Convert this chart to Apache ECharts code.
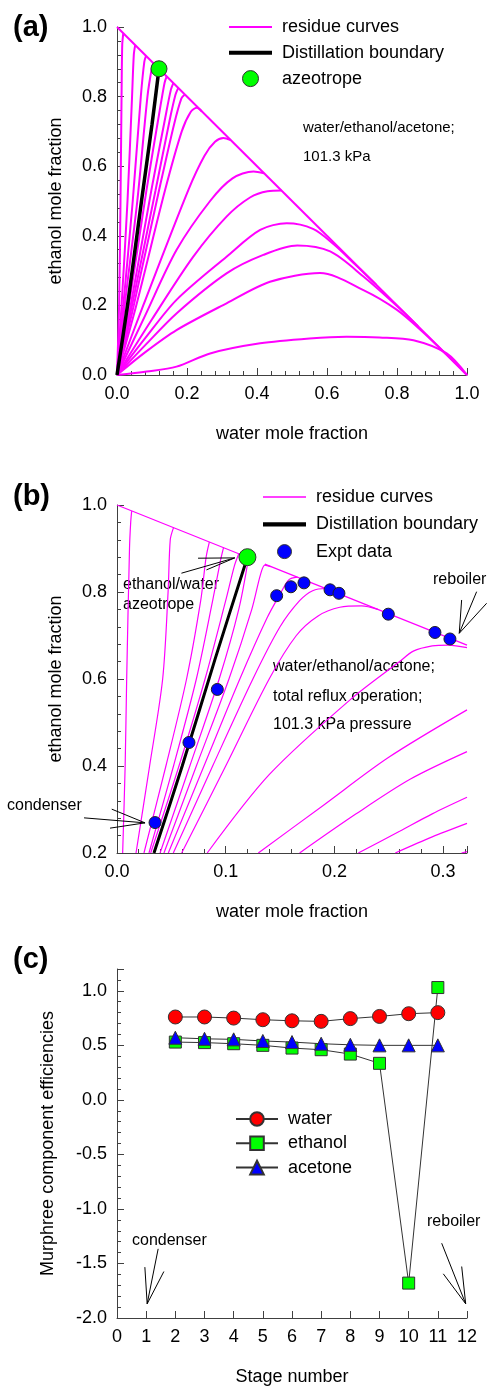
<!DOCTYPE html>
<html>
<head>
<meta charset="utf-8">
<script src="https://cdn.jsdelivr.net/npm/echarts@6/dist/echarts.min.js"></script>
<style>
  html, body { margin: 0; padding: 0; background: #fff; }
  #chart { width: 487px; height: 1386px; }
</style>
</head>
<body>
<div id="chart"></div>
<script>
// ---------- (a) residue curve map, full composition triangle ----------
// x = water mole fraction, y = ethanol mole fraction
const edgeA = [[0, 1], [1, 0]];
const residueA = [
  [[0,0],[0.006,0.2],[0.01,0.5],[0.013,0.8],[0.015,0.95],[0.018,0.982]],
  [[0,0],[0.013,0.2],[0.03,0.5],[0.043,0.8],[0.048,0.92],[0.052,0.948]],
  [[0,0],[0.018,0.2],[0.045,0.5],[0.068,0.8],[0.078,0.9],[0.083,0.917]],
  [[0,0],[0.022,0.2],[0.058,0.5],[0.087,0.8],[0.1,0.885],[0.104,0.896]],
  [[0,0],[0.034,0.2],[0.084,0.53],[0.122,0.76],[0.136,0.84],[0.142,0.858]],
  [[0,0],[0.039,0.2],[0.098,0.53],[0.138,0.74],[0.154,0.82],[0.161,0.839]],
  [[0,0],[0.043,0.2],[0.11,0.53],[0.15,0.73],[0.167,0.805],[0.175,0.825]],
  [[0,0],[0.048,0.2],[0.12,0.53],[0.163,0.72],[0.184,0.795],[0.194,0.806]],
  [[0,0],[0.055,0.2],[0.137,0.53],[0.185,0.7],[0.21,0.755],[0.228,0.768],[0.242,0.758]],
  [[0,0],[0.075,0.2],[0.204,0.532],[0.25,0.63],[0.28,0.67],[0.304,0.681],[0.325,0.675]],
  [[0,0],[0.08,0.17],[0.17,0.359],[0.266,0.5],[0.33,0.565],[0.39,0.585],[0.42,0.58]],
  [[0,0],[0.1,0.16],[0.218,0.34],[0.313,0.455],[0.38,0.51],[0.43,0.528],[0.47,0.53]],
  [[0,0],[0.08,0.105],[0.17,0.216],[0.313,0.34],[0.409,0.417],[0.485,0.436],[0.56,0.42],[0.62,0.375],[0.68,0.318],[0.74,0.26]],
  [[0,0],[0.08,0.085],[0.17,0.177],[0.313,0.292],[0.418,0.345],[0.515,0.372],[0.609,0.355],[0.704,0.283],[0.8,0.198],[0.86,0.14]],
  [[0,0],[0.08,0.065],[0.17,0.129],[0.313,0.206],[0.437,0.268],[0.58,0.293],[0.704,0.244],[0.8,0.187],[0.88,0.118],[0.94,0.06],[1,0]],
  [[0,0],[0.085,0.01],[0.17,0.024],[0.266,0.062],[0.409,0.091],[0.55,0.105],[0.656,0.11],[0.75,0.108],[0.847,0.1],[0.942,0.062],[1,0]]
];
const boundaryA = [[0,0],[0.03,0.2],[0.07,0.5],[0.1,0.72],[0.12,0.88]];
const azeotrope = [0.12, 0.88];

// ---------- (b) enlarged water-lean corner with column profile ----------
const edgeB = [[[0,1],[0.12,0.88]], [[0.136,0.864],[0.322,0.678]]];
const residueB = [
  [[0.0052,0.2],[0.0075,0.4],[0.0089,0.6],[0.0115,0.9],[0.0126,0.96],[0.0135,0.986]],
  [[0.0175,0.2],[0.03,0.4],[0.042,0.6],[0.047,0.8],[0.049,0.92],[0.052,0.948]],
  [[0.0248,0.2],[0.045,0.4],[0.064,0.6],[0.077,0.78],[0.082,0.88],[0.085,0.915]],
  [[0.0294,0.2],[0.052,0.4],[0.073,0.6],[0.088,0.78],[0.095,0.87],[0.098,0.902]],
  [[0.031,0.2],[0.057,0.4],[0.081,0.6],[0.1,0.78],[0.108,0.86],[0.112,0.888]],
  [[0.0396,0.2],[0.067,0.4],[0.094,0.6],[0.112,0.76],[0.121,0.878]],
  [[0.0432,0.2],[0.073,0.4],[0.103,0.6],[0.124,0.76],[0.132,0.84],[0.136,0.862],[0.142,0.858]],
  [[0.0472,0.2],[0.08,0.4],[0.113,0.6],[0.138,0.74],[0.15,0.795],[0.158,0.828],[0.166,0.834]],
  [[0.0518,0.2],[0.088,0.4],[0.125,0.6],[0.15,0.72],[0.168,0.78],[0.18,0.803],[0.192,0.808],[0.2,0.8]],
  [[0.0595,0.2],[0.1,0.4],[0.14,0.6],[0.165,0.7],[0.185,0.745],[0.205,0.765],[0.225,0.768],[0.24,0.76]],
  [[0.083,0.2],[0.14,0.38],[0.2144,0.552],[0.26,0.64],[0.2726,0.664],[0.29,0.676],[0.305,0.678],[0.322,0.672]],
  [[0.13,0.2],[0.19,0.31],[0.25,0.42],[0.322,0.529]],
  [[0.168,0.2],[0.22,0.29],[0.27,0.37],[0.322,0.433]],
  [[0.222,0.2],[0.26,0.25],[0.29,0.29],[0.322,0.328]],
  [[0.256,0.2],[0.29,0.237],[0.322,0.268]],
  [[0.317,0.2],[0.322,0.203]]
];
const boundaryB = [[0.034,0.2],[0.06,0.4],[0.09,0.644],[0.12,0.88]];
const exptWater   = [0.035, 0.0662, 0.0923, 0.1469, 0.160, 0.172, 0.196, 0.2042, 0.2496, 0.2925, 0.3063];
const exptEthanol = [0.270, 0.454, 0.576, 0.7915, 0.812, 0.821, 0.805, 0.797, 0.749, 0.707, 0.692];

// ---------- (c) Murphree efficiencies per stage ----------
const stages     = [2, 3, 4, 5, 6, 7, 8, 9, 10, 11];
const waterEff   = [0.76, 0.76, 0.75, 0.735, 0.725, 0.72, 0.745, 0.765, 0.79, 0.80];
const ethanolEff = [0.53, 0.525, 0.515, 0.50, 0.475, 0.46, 0.42, 0.335, -1.68, 1.03];
const acetoneEff = [0.57, 0.56, 0.555, 0.54, 0.53, 0.515, 0.505, 0.50, 0.50, 0.50];
const condenserStage = [1, -1.87];
const reboilerStage  = [12, -1.87];

const FONT = '"Liberation Sans", Arial, Helvetica, sans-serif';
const AXIS = '#404040';
const MAGENTA = '#ff00ff';

function valueAxis(extra) {
  const base = {
    type: 'value',
    axisLine: { show: true, onZero: false, lineStyle: { color: AXIS, width: 1 } },
    axisTick: { show: true, inside: true, length: 7, lineStyle: { color: AXIS, width: 1 } },
    minorTick: { show: true, splitNumber: 5, length: 4, lineStyle: { color: AXIS, width: 1 } },
    splitLine: { show: false },
    minorSplitLine: { show: false },
    axisLabel: { fontSize: 18, color: '#000', fontFamily: FONT, margin: 10,
                 formatter: v => v.toFixed(1) },
    nameLocation: 'middle',
    nameTextStyle: { fontSize: 18, color: '#000', fontFamily: FONT }
  };
  const out = Object.assign({}, base, extra);
  if (extra.axisLabel) out.axisLabel = Object.assign({}, base.axisLabel, extra.axisLabel);
  if (extra.axisTick) out.axisTick = Object.assign({}, base.axisTick, extra.axisTick);
  if (extra.minorTick) out.minorTick = Object.assign({}, base.minorTick, extra.minorTick);
  return out;
}

function curve(points, idx, width, name) {
  return {
    type: 'line', name: name || 'residue curves', xAxisIndex: idx, yAxisIndex: idx,
    data: points, symbol: 'none', showSymbol: false, smooth: 0.3, silent: true,
    lineStyle: { color: MAGENTA, width: width }, itemStyle: { color: MAGENTA }, z: 2
  };
}

const series = [];
residueA.forEach(c => series.push(curve(c, 0, 2)));
series.push(curve(edgeA, 0, 2));
series.push({ type: 'line', name: 'Distillation boundary', xAxisIndex: 0, yAxisIndex: 0,
  data: boundaryA, symbol: 'none', smooth: 0.3, silent: true,
  lineStyle: { color: '#000', width: 3.5 }, itemStyle: { color: '#000' }, z: 3 });
series.push({ type: 'scatter', name: 'azeotrope', xAxisIndex: 0, yAxisIndex: 0,
  data: [azeotrope], symbol: 'circle', symbolSize: 16, silent: true,
  itemStyle: { color: '#00ff00', borderColor: '#333', borderWidth: 1, opacity: 1 }, z: 4 });

residueB.forEach(c => series.push(curve(c, 1, 1.2)));
edgeB.forEach(c => series.push(curve(c, 1, 1.2)));
series.push({ type: 'line', name: 'Distillation boundary', xAxisIndex: 1, yAxisIndex: 1,
  data: boundaryB, symbol: 'none', smooth: 0.3, silent: true,
  lineStyle: { color: '#000', width: 3 }, itemStyle: { color: '#000' }, z: 3 });
series.push({ type: 'scatter', name: 'ethanol/water azeotrope', xAxisIndex: 1, yAxisIndex: 1,
  data: [azeotrope], symbol: 'circle', symbolSize: 17, silent: true,
  itemStyle: { color: '#00ff00', borderColor: '#333', borderWidth: 1, opacity: 1 }, z: 4 });
series.push({ type: 'scatter', name: 'Expt data', xAxisIndex: 1, yAxisIndex: 1,
  data: exptWater.map((x, i) => [x, exptEthanol[i]]), symbol: 'circle', symbolSize: 12, silent: true,
  itemStyle: { color: '#0000ff', borderColor: '#222', borderWidth: 1, opacity: 1 }, z: 5 });

function effSeries(name, values, symbol, size, color) {
  return {
    type: 'line', name: name, xAxisIndex: 2, yAxisIndex: 2,
    data: stages.map((s, i) => [s, values[i]]),
    symbol: symbol, symbolSize: size, showSymbol: true, silent: true,
    lineStyle: { color: '#333', width: 1 },
    itemStyle: { color: color, borderColor: '#333', borderWidth: 1, opacity: 1 }, z: 4
  };
}
series.push(effSeries('water', waterEff, 'circle', 14, '#ff0000'));
series.push(effSeries('ethanol', ethanolEff, 'rect', 12, '#00ff00'));
series.push(effSeries('acetone', acetoneEff, 'triangle', 13, '#0000ff'));

const legendText = { fontSize: 18, color: '#000', fontFamily: FONT, padding: [0, 0, 0, 5] };
const dotBorder = { borderWidth: 1, borderColor: '#333' };

const option = {
  animation: false,
  backgroundColor: '#fff',
  textStyle: { fontFamily: FONT },
  grid: [
    { left: 117, top: 27, width: 350, height: 348, outerBoundsMode: 'none', containLabel: false },
    { left: 117, top: 505, width: 350, height: 348, outerBoundsMode: 'none', containLabel: false },
    { left: 117, top: 969, width: 350, height: 349, outerBoundsMode: 'none', containLabel: false }
  ],
  xAxis: [
    valueAxis({ gridIndex: 0, min: 0, max: 1, interval: 0.2, name: 'water mole fraction', nameGap: 50 }),
    valueAxis({ gridIndex: 1, min: 0, max: 0.322, interval: 0.1, name: 'water mole fraction', nameGap: 50,
      axisLabel: { showMaxLabel: false } }),
    valueAxis({ gridIndex: 2, min: 0, max: 12, interval: 1, name: 'Stage number', nameGap: 50,
      minorTick: { show: false }, axisLabel: { formatter: v => String(v) } })
  ],
  yAxis: [
    valueAxis({ gridIndex: 0, min: 0, max: 1, interval: 0.2, name: 'ethanol mole fraction', nameGap: 52 }),
    valueAxis({ gridIndex: 1, min: 0.2, max: 1, interval: 0.2, name: 'ethanol mole fraction', nameGap: 52 }),
    valueAxis({ gridIndex: 2, min: -2, max: 1.2, interval: 0.5, name: 'Murphree component efficiencies', nameGap: 60,
      axisLabel: { showMaxLabel: false } })
  ],
  legend: [
    { orient: 'vertical', left: 224, top: 13, itemWidth: 43, itemHeight: 16, itemGap: 7.8,
      selectedMode: false, textStyle: legendText, itemStyle: { borderWidth: 0 },
      data: [
        { name: 'residue curves', icon: 'path://M0,0H43V2H0Z' },
        { name: 'Distillation boundary', icon: 'path://M0,0H43V4H0Z' },
        { name: 'azeotrope', icon: 'circle', itemStyle: dotBorder }
      ] },
    { orient: 'vertical', left: 258, top: 483, itemWidth: 43, itemHeight: 14, itemGap: 9.3,
      selectedMode: false, textStyle: legendText, itemStyle: { borderWidth: 0 },
      data: [
        { name: 'residue curves', icon: 'path://M0,0H43V1.3H0Z' },
        { name: 'Distillation boundary', icon: 'path://M0,0H43V4.2H0Z' },
        { name: 'Expt data', icon: 'circle', itemStyle: dotBorder }
      ] },
    { orient: 'vertical', left: 230, top: 1105, itemWidth: 42, itemHeight: 17, itemGap: 6.3,
      selectedMode: false, textStyle: legendText,
      data: ['water', 'ethanol', 'acetone'] }
  ],
  series: series
};

const chart = echarts.init(document.getElementById('chart'), null, { renderer: 'canvas' });
chart.setOption(option);

// ---------- annotations: panel tags, notes and thin arrows ----------
function text(str, x, y, size, weight) {
  return { type: 'text', x: x, y: y, z: 1, silent: true,
    style: { text: str, fontSize: size, fontWeight: weight || 'normal', fontFamily: FONT,
             fill: '#000', align: 'left', verticalAlign: 'middle' } };
}
function arrow(tip, starts) {
  return starts.map(s => ({ type: 'line', z: 10, silent: true,
    shape: { x1: tip[0] + s[0], y1: tip[1] + s[1], x2: tip[0], y2: tip[1] },
    style: { stroke: '#000', lineWidth: 1 } }));
}
const px = (idx, p) => chart.convertToPixel({ xAxisIndex: idx, yAxisIndex: idx }, p);

const azB = px(1, azeotrope);
const condB = px(1, [exptWater[0], exptEthanol[0]]);
const last = exptWater.length - 1;
const rebB = px(1, [exptWater[last], exptEthanol[last]]);
const condC = px(2, condenserStage);
const rebC = px(2, reboilerStage);

const graphics = [
  text('(a)', 13, 28, 29, 'bold'),
  text('(b)', 13, 497, 29, 'bold'),
  text('(c)', 13, 960, 29, 'bold'),
  text('water/ethanol/acetone;', 303, 128, 15),
  text('101.3 kPa', 303, 157, 15),
  text('ethanol/water', 123, 585, 16),
  text('azeotrope', 123, 605, 16),
  text('condenser', 7, 806, 16),
  text('reboiler', 433, 580, 16),
  text('water/ethanol/acetone;', 273, 667, 16),
  text('total reflux operation;', 273, 697, 16),
  text('101.3 kPa pressure', 273, 725, 16),
  text('condenser', 132, 1241, 16),
  text('reboiler', 427, 1222, 16)
]
  .concat(arrow([azB[0] - 12.7, azB[1] + 0.7], [[-36.7, 0.3], [-53.3, 15.3], [-28.3, 12]]))
  .concat(arrow([condB[0] - 10, condB[1] + 0.3], [[-33.3, -13.7], [-35, 5.3], [-61, -5]]))
  .concat(arrow([rebB[0] + 9.3, rebB[1] - 5.7], [[17.4, -41.6], [27.4, -30], [2.4, -33.3]]))
  .concat(arrow([condC[0] + 1, condC[1]], [[11, -55], [-2.3, -36.7], [16.7, -32.3]]))
  .concat(arrow([rebC[0] - 1.3, rebC[1]], [[-24, -60.6], [-22.4, -30], [-4, -37.3]]));

chart.setOption({ graphic: graphics });
</script>
</body>
</html>
